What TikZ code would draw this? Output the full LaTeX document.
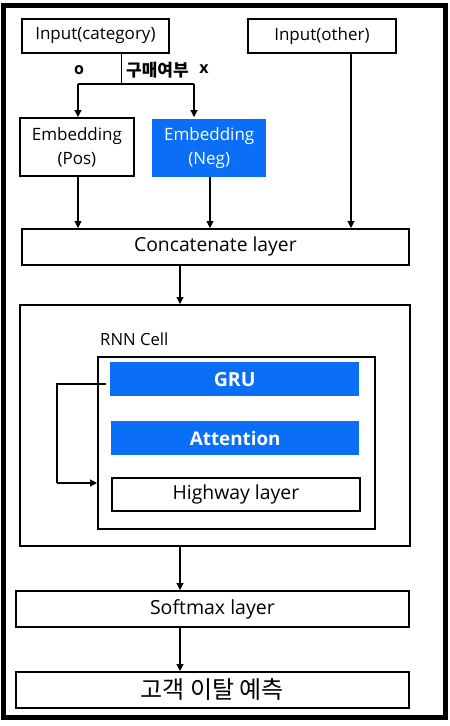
\documentclass[tikz,border=0pt]{standalone}
\usepackage{fontspec}
\setmainfont{Open Sans}
\newfontfamily\kor{Noto Sans CJK KR}
\usetikzlibrary{arrows.meta}
\definecolor{nblue}{RGB}{10,110,246}
\newcommand{\fs}[1]{\fontsize{#1}{#1}\selectfont}
\begin{document}
\begin{tikzpicture}[x=1pt,y=-1pt,
  box/.style={draw=black,line width=1.8pt,inner sep=0pt,anchor=north west},
  bluebox/.style={fill=nblue,text=white,inner sep=0pt,anchor=north west},
  arr/.style={line width=1.1pt,-{Triangle[length=7pt,width=7pt]}},
  ln/.style={line width=1.1pt}]
\useasboundingbox (0,0) rectangle (450,726);
\draw[line width=5pt] (3.5,5.5) rectangle (445.5,717.5);
% top inputs
\node[box,minimum width=147pt,minimum height=34pt,font=\fs{17}] (incat) at (21,18) {Input(category)};
\node[box,minimum width=148pt,minimum height=34pt,font=\fs{17}] (inoth) at (247,18) {Input(other)};
% embeddings
\node[box,minimum width=114pt,minimum height=58pt,align=center,font=\fontsize{17}{24}\selectfont] (epos) at (19,117) {Embedding\\(Pos)};
\node[bluebox,minimum width=114pt,minimum height=58pt,align=center,font=\fontsize{17}{24}\selectfont] (eneg) at (152,119) {Embedding\\(Neg)};
% branch
\coordinate (br) at (121.7,84);
\coordinate (brl) at (78,84);
\coordinate (brr) at (194,84);
\draw[ln] (incat.south -| br) -- (br);
\draw[ln] (brl) -- (brr);
\draw[arr] (brl) -- (brl |- epos.north);
\draw[arr] (brr) -- (brr |- epos.north);
\node[font=\bfseries\fs{16}] (lo) at (79,70) {o};
\node[font=\kor\bfseries\fs{17}\selectfont,anchor=west,inner sep=0pt] (lk) at (126,70) {구매여부};
\node[font=\bfseries\fs{16}] (lx) at (204,69) {x};
% concatenate
\node[box,minimum width=387pt,minimum height=36pt,font=\fs{19.3}] (concat) at (21,228) {Concatenate layer};
\draw[arr] (epos.south -| 78,0) -- (concat.north -| 78,0);
\draw[arr] (eneg.south -| 210,0) -- (concat.north -| 210,0);
\draw[arr] (inoth.south -| 351,0) -- (concat.north -| 351,0);
% RNN block
\node[box,minimum width=390pt,minimum height=241pt] (rnn) at (19,304) {};
\draw[arr] (concat.south -| 180,0) -- (rnn.north -| 180,0);
\node[font=\fs{16.7},anchor=west,inner sep=0pt] (rnnl) at (100,339) {RNN Cell};
\node[box,minimum width=277pt,minimum height=172pt] (cell) at (97,356) {};
\node[bluebox,minimum width=249pt,minimum height=34pt,font=\bfseries\fs{19.5}] (gru) at (110,362) {GRU};
\node[bluebox,minimum width=248pt,minimum height=34pt,font=\bfseries\fs{18.8}] (att) at (111,421) {Attention};
\node[box,minimum width=248pt,minimum height=33pt,font=\fs{19.4}] (hw) at (111,477) {Highway layer};
\coordinate (fb1) at (106,384);
\coordinate (fb2) at (57,384);
\coordinate (fb3) at (57,483);
\draw[ln] (fb1) -- (fb2) -- (fb3);
\draw[arr] (fb3) -- (cell.west |- fb3);
% bottom
\node[box,minimum width=393pt,minimum height=36pt,font=\fs{19.5}] (soft) at (15,590) {Softmax layer};
\draw[arr] (rnn.south -| 180,0) -- (soft.north -| 180,0);
\node[box,minimum width=393pt,minimum height=36pt,font=\kor\fs{24}] (pred) at (15,671) {고객 이탈 예측};
\draw[arr] (soft.south -| 180,0) -- (pred.north -| 180,0);
\end{tikzpicture}
\end{document}
